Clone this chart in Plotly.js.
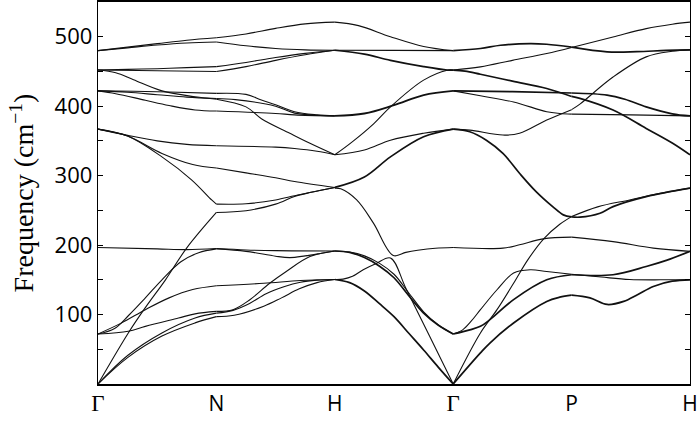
<!DOCTYPE html>
<html>
<head>
<meta charset="utf-8">
<script src="https://cdn.plot.ly/plotly-3.0.1.min.js"></script>
<style>
  html, body { margin: 0; padding: 0; background: #fff; }
  #chart { width: 697px; height: 422px; }
</style>
</head>
<body>
<div id="chart"></div>
<script>
// High-symmetry points along the path (equal spacing)
const kLabels = ['Γ', 'N', 'H', 'Γ', 'P', 'H'];
const yTickVals = [100, 200, 300, 400, 500];
const yTickText = ['100', '200', '300', '400', '500'];

// Each branch: list of [fraction along segment, frequency cm^-1]
// Segment Γ -> N
const segGN = [
  [[0,480],[.25,485],[.5,490],[.75,495],[1,498.5]],
  [[0,480],[.25,484],[.5,488],[.75,491],[1,492.5]],
  [[0,452],[.25,453],[.5,454],[.75,455.5],[1,457]],
  [[0,452],[.5,451],[1,450]],
  [[0,452],[.15,448],[.3,438],[.54,422],[.82,413.5],[1,410]],
  [[0,422],[.3,421.5],[.6,420.5],[1,418.5]],
  [[0,422],[.25,420],[.5,416.5],[.75,413],[1,411]],
  [[0,422],[.15,418],[.4,408.5],[.6,401],[.82,394.5],[1,393]],
  [[0,367],[.25,358],[.5,350],[.75,345],[1,343]],
  [[0,367],[.25,357],[.54,332],[.8,316],[1,311]],
  [[0,367],[.25,357],[.54,327],[.79,294],[.96,265],[1,259]],
  [[0,196.5],[.5,194.5],[.75,193.5],[1,195]],
  [[0,72],[.14,80],[.26,99],[.4,124],[.54,150],[.7,176],[.85,189],[1,194.5]],
  [[0,72],[.2,88],[.4,107],[.6,124],[.8,136],[1,141.5]],
  [[0,72],[.256,76],[.4,83],[.68,95],[.82,101],[1,104.5]],
  [[0,0],[.256,73.5],[.4,110],[.57,150],[.75,196],[1,247]],
  [[0,0],[.25,41],[.54,73.5],[.82,95],[1,102]],
  [[0,0],[.25,38],[.54,69],[.82,88],[1,97]]
];
const degGN = [1,1,1,1,1,1,1,1,1,1,1,1,1,1,1,1,1,1];

// Segment N -> H
const segNH = [
  [[0,498.5],[.25,504],[.5,512],[.75,518.5],[1,521]],
  [[0,492.5],[.25,487],[.5,483],[.75,481],[1,480.5]],
  [[0,457],[.25,463],[.5,470],[.75,476],[1,480.5]],
  [[0,450],[.25,457],[.5,466],[.75,474],[1,480.5]],
  [[0,410],[.25,399],[.38,382],[.62,361],[.79,346.5],[1,330]],
  [[0,418.5],[.25,417],[.38,409],[.5,402],[.66,392],[.85,387.5],[1,386]],
  [[0,411],[.16,409.5],[.5,400],[.66,390],[.85,387],[1,386]],
  [[0,393],[.5,389.5],[.66,387.5],[1,386]],
  [[0,343],[.5,341],[.66,339],[.85,335],[1,330]],
  [[0,311],[.25,304],[.5,297],[.66,291.5],[1,283]],
  [[0,259],[.25,259.5],[.5,265],[.66,271],[.8,276],[1,283]],
  [[0,247],[.25,249.5],[.5,259],[.66,270],[.8,276],[1,283]],
  [[0,195],[.25,193],[.5,192],[1,191.5]],
  [[0,194.5],[.25,191],[.5,184],[.62,182],[.75,184.5],[.88,188],[1,191.5]],
  [[0,104.5],[.14,107],[.28,121],[.45,145],[.59,162],[.79,183.5],[1,191.5]],
  [[0,141.5],[.4,145],[.71,149],[1,150.5]],
  [[0,102],[.14,106],[.28,116],[.42,130],[.57,140],[.71,146.5],[.85,149.5],[1,150.5]],
  [[0,97],[.15,99],[.4,112],[.55,124],[.7,137],[.85,146],[1,150.5]]
];
const degNH = [1,1,1,1,1,1,1,1,1,1,1,1,1,1,1,1,1,1];

// Segment H -> Γ
const segHG = [
  [[0,521],[.2,516],[.47,500],[.75,486],[1,480]],
  [[0,480.5],[.5,480.3],[1,480]],
  [[0,480.5],[.25,475],[.47,466],[.75,457],[.95,452],[1,452]],
  [[0,330],[.15,349],[.33,375],[.47,399],[.75,437.5],[.95,451.8],[1,452]],
  [[0,386],[.25,389.5],[.5,401.5],[.75,416],[1,422]],
  [[0,330],[.25,337],[.47,351],[.75,361],[1,367]],
  [[0,283],[.25,298],[.47,327],[.75,356],[1,367]],
  [[0,282],[.05,281],[.185,265],[.325,232],[.494,185],[.6,189.5],[.7,192.5],[.85,195.5],[1,196.5]],
  [[0,150.5],[.07,151],[.15,155],[.24,164.5],[.35,173.5],[.47,181.5],[.6,138],[.8,69],[1,0]],
  [[0,191.5],[.125,189.5],[.25,182],[.375,170],[.5,153],[.625,127],[.75,102],[.875,84.5],[1,72]],
  [[0,191.5],[.125,190],[.25,184.5],[.375,174],[.5,158],[.625,131],[.75,104],[.875,85],[1,72]],
  [[0,150.5],[.125,146],[.25,134],[.375,116],[.5,97],[.625,73],[.75,49],[.875,24],[1,0]]
];
const degHG = [1,1,2,1,3,1,2,1,1,2,1,2];

// Segment Γ -> P
const segGP = [
  [[0,480],[.23,483],[.4,487.7],[.65,490.2],[.79,489.2],[1,485]],
  [[0,452],[.23,456.6],[.5,466],[.79,475.8],[1,484.5]],
  [[0,452],[.1,450.5],[.23,446],[.5,436],[.79,425.5],[1,414]],
  [[0,422],[.5,421],[1,419]],
  [[0,422],[.23,415],[.51,406],[.79,392],[.9,389.5],[1,388.5]],
  [[0,367],[.14,365.5],[.42,358.4],[.56,361],[.79,380],[1,395]],
  [[0,367],[.14,363.2],[.28,351],[.42,332],[.56,303.4],[.7,277],[.84,255.4],[.93,243.5],[1,240.5]],
  [[0,0],[.23,73.5],[.37,107],[.51,145],[.63,178.8],[.77,210],[.9,230],[1,241]],
  [[0,196.5],[.42,195.6],[.56,200.4],[.76,209],[1,211.4]],
  [[0,72],[.08,78],[.15,90],[.23,107],[.37,135.7],[.51,159.7],[.65,164.5],[.79,162],[1,158]],
  [[0,72],[.14,78],[.23,83],[.31,92.6],[.51,121.4],[.79,150],[1,157.3]],
  [[0,0],[.23,44.8],[.31,59],[.51,87.9],[.79,118.9],[.9,125],[1,128]]
];
const degGP = [2,1,2,2,1,1,2,1,1,1,2,2];

// Segment P -> H
const segPH = [
  [[0,485],[.3,478.3],[.55,478.5],[.8,480.3],[1,481]],
  [[0,484.5],[.35,499.7],[.63,511.7],[.85,518],[1,521]],
  [[0,414],[.07,411.2],[.35,394.4],[.63,368],[.85,347],[1,330]],
  [[0,419],[.3,416],[.45,410],[.63,399],[.85,389],[1,386]],
  [[0,388.5],[.5,387.5],[1,386]],
  [[0,395],[.07,403],[.35,442],[.63,471],[.85,479],[1,481]],
  [[0,240.5],[.07,240.2],[.24,245.9],[.35,255.4],[.63,269.8],[1,282]],
  [[0,241],[.22,255],[.49,265],[.75,274.5],[1,282]],
  [[0,211.4],[.35,205],[.69,195.6],[1,191]],
  [[0,158],[.25,154],[.49,150.5],[.75,150],[1,150.5]],
  [[0,157.3],[.35,157.3],[.63,169.2],[.8,178],[1,191]],
  [[0,128],[.155,124],[.3,114.5],[.44,119],[.56,129],[.69,140.5],[.85,148],[1,150]]
];
const degPH = [2,1,2,2,1,1,2,1,1,1,2,2];

const segments = [segGN, segNH, segHG, segGP, segPH];
const degeneracy = [degGN, degNH, degHG, degGP, degPH];

const widthFor = {1: 1.1, 2: 1.7, 3: 1.9};
const groups = {};
segments.forEach((seg, s) => {
  seg.forEach((branch, i) => {
    const g = degeneracy[s][i];
    if (!groups[g]) groups[g] = {x: [], y: []};
    branch.forEach(([t, w]) => { groups[g].x.push(s + t); groups[g].y.push(w); });
    groups[g].x.push(null); groups[g].y.push(null);
  });
});

const traces = Object.keys(groups).map(g => ({
  type: 'scatter', mode: 'lines',
  x: groups[g].x, y: groups[g].y,
  line: {color: '#111', width: widthFor[g], shape: 'spline', smoothing: 1},
  connectgaps: false, hoverinfo: 'skip', showlegend: false
}));

const serifGamma = s => s === 'Γ' ? '<span style="font-family:\'Liberation Serif\', serif;font-size:23px">Γ</span>' : s;

const layout = {
  width: 697, height: 422,
  margin: {l: 98, r: 7, t: 2, b: 38},
  paper_bgcolor: '#fff', plot_bgcolor: '#fff',
  showlegend: false,
  xaxis: {
    range: [0, 5], showgrid: false, zeroline: false,
    showline: true, linecolor: '#000', linewidth: 1.8, mirror: true,
    ticks: '', tickmode: 'array', tickvals: [0,1,2,3,4,5],
    ticktext: kLabels.map(serifGamma),
    ticklabeloverflow: 'allow',
    tickfont: {family: 'Open Sans, sans-serif', size: 21, color: '#000'}
  },
  yaxis: {
    range: [0, 550], showgrid: false, zeroline: false,
    showline: true, linecolor: '#000', linewidth: 1.3, mirror: 'ticks',
    ticks: 'inside', ticklen: 5, tickwidth: 1, tickcolor: '#000',
    tickmode: 'array', tickvals: yTickVals, ticktext: yTickText,
    minor: {dtick: 50, tick0: 0, ticks: 'inside', ticklen: 5, tickwidth: 1, tickcolor: '#000'},
    tickfont: {family: 'Open Sans, sans-serif', size: 22, color: '#000'},
    title: {text: 'Frequency (cm<sup>−1</sup>)', font: {family: 'Liberation Serif, serif', size: 28, color: '#000'}, standoff: 12}
  }
};

Plotly.newPlot('chart', traces, layout, {staticPlot: true, displayModeBar: false});
</script>
</body>
</html>
